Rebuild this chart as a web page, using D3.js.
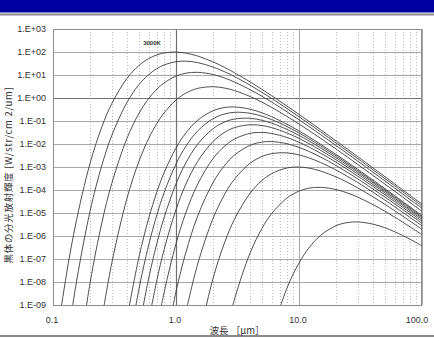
<!DOCTYPE html>
<html>
<head>
<meta charset="utf-8">
<script src="https://cdn.jsdelivr.net/npm/d3@7"></script>
<style>
  html, body { margin: 0; padding: 0; background: #fff; }
  svg { display: block; }
  text { font-family: "Liberation Sans", Arial, "Noto Sans CJK JP", sans-serif; }
</style>
</head>
<body>
<svg id="chart" width="434" height="338"></svg>
<script>
// wavelength grid [um]
const wavelengths = [0.1, 0.12, 0.15, 0.2, 0.25, 0.3, 0.4, 0.5, 0.6, 0.7, 0.8, 1, 1.2, 1.5, 2, 2.5, 3,
  4, 5, 6, 8, 10, 12, 15, 20, 25, 30, 40, 50, 60, 80, 100];

// curves, W/str/cm2/um; each list ends at 100 um (right-aligned on the grid)
const temps = [3000, 2500, 2000, 1500, 1000, 900, 800, 700, 600, 500, 400, 300, 200, 100];
const b3000 = [1.8e-12, 2.1e-9, 2.0e-6, 1.43e-3, 0.0569, 0.558, 7.21, 26.0, 51.8, 75.0, 90.8, 99.2, 89.5, 66.8, 37.2, 21.0, 12.4,
  5.02, 2.37, 1.25, 0.443, 0.194, 0.0974, 0.0416, 0.01373, 5.77e-3, 2.83e-3, 9.12e-4, 3.78e-4, 1.84e-4, 5.88e-5, 2.42e-5];
const b2500 = [7.1e-13, 3.4e-9, 1.18e-5, 1.22e-3, 0.0229, 0.656, 3.82, 10.45, 19.0, 27.3, 37.8, 39.9, 34.6, 22.2, 13.6, 8.44,
  3.61, 1.76, 0.951, 0.345, 0.153, 0.0777, 0.0335, 0.01116, 4.71e-3, 2.32e-3, 7.51e-4, 3.12e-4, 1.52e-4, 4.87e-5, 2.01e-5];
const b2000 = [2.3e-13, 8.9e-9, 3.9e-6, 1.88e-4, 0.01795, 0.215, 0.950, 2.44, 4.52, 8.95, 11.95, 13.07, 10.49, 7.28, 4.90,
  2.31, 1.185, 0.661, 0.249, 0.1131, 0.0583, 0.0255, 8.60e-3, 3.66e-3, 1.81e-3, 5.90e-4, 2.46e-4, 1.20e-4, 3.86e-5, 1.60e-5];
const b1500 = [2.6e-10, 6.4e-8, 4.47e-5, 1.78e-3, 0.01746, 0.0793, 0.2257, 0.813, 1.617, 2.62, 3.10, 2.69, 2.09,
  1.162, 0.656, 0.388, 0.157, 0.0740, 0.0391, 0.01751, 6.05e-3, 2.61e-3, 1.30e-3, 4.29e-4, 1.80e-4, 8.82e-5, 2.85e-5, 1.18e-5];
const b1000 = [2.8e-10, 1.21e-7, 5.9e-6, 8.4e-5, 5.62e-4, 6.72e-3, 0.0297, 0.1071, 0.280, 0.388, 0.408,
  0.3276, 0.2273, 0.1531, 0.0721, 0.0370, 0.0207, 9.74e-3, 3.54e-3, 1.57e-3, 7.96e-4, 2.69e-4, 1.14e-4, 5.65e-5, 1.84e-5, 7.70e-6];
const b900 = [5.1e-12, 5.0e-9, 4.1e-7, 8.5e-6, 7.6e-5, 1.36e-3, 7.83e-3, 0.0369, 0.1258, 0.204, 0.239,
  0.2176, 0.1624, 0.1146, 0.0570, 0.0302, 0.01716, 8.24e-3, 3.04e-3, 1.36e-3, 6.97e-4, 2.37e-4, 1.01e-4, 5.01e-5, 1.64e-5, 6.87e-6];
const b800 = [9.1e-11, 1.47e-8, 4.9e-7, 6.3e-6, 1.84e-4, 1.48e-3, 9.74e-3, 0.0463, 0.0917, 0.1224,
  0.1311, 0.1074, 0.0804, 0.0429, 0.0236, 0.01376, 6.77e-3, 2.55e-3, 1.16e-3, 5.97e-4, 2.05e-4, 8.80e-5, 4.38e-5, 1.44e-5, 6.04e-6];
const b700 = [2.0e-10, 1.25e-8, 2.53e-7, 1.41e-5, 1.74e-4, 1.75e-3, 0.01281, 0.0328, 0.0519,
  0.0686, 0.0635, 0.0515, 0.0301, 0.01749, 0.01053, 5.34e-3, 2.07e-3, 9.57e-4, 4.98e-4, 1.73e-4, 7.49e-5, 3.75e-5, 1.24e-5, 5.22e-6];
const b600 = [9.4e-11, 3.5e-9, 4.6e-7, 1.0e-5, 1.79e-4, 2.31e-3, 8.33e-3, 0.01657,
  0.0290, 0.0317, 0.0287, 0.01909, 0.01191, 7.50e-3, 3.97e-3, 1.61e-3, 7.58e-4, 4.00e-4, 1.42e-4, 6.19e-5, 3.12e-5, 1.04e-5, 4.39e-6];
const b500 = [8.7e-12, 3.8e-9, 1.84e-7, 7.3e-6, 2.10e-4, 1.22e-3, 3.35e-3,
  8.74e-3, 0.01210, 0.01275, 0.01024, 7.10e-3, 4.79e-3, 2.70e-3, 1.16e-3, 5.65e-4, 3.05e-4, 1.10e-4, 4.90e-5, 2.49e-5, 8.39e-6, 3.57e-6];
const b400 = [4.6e-10, 6.0e-8, 5.75e-6, 6.88e-5, 3.04e-4,
  1.45e-3, 2.86e-3, 3.82e-3, 4.10e-3, 3.36e-3, 2.51e-3, 1.57e-3, 7.39e-4, 3.79e-4, 2.12e-4, 7.97e-5, 3.62e-5, 1.86e-5, 6.40e-6, 2.75e-6];
const b300 = [2.0e-11, 1.43e-8, 5.69e-7, 5.59e-6,
  7.22e-5, 2.60e-4, 5.17e-4, 9.08e-4, 9.92e-4, 8.96e-4, 6.68e-4, 3.72e-4, 2.10e-4, 1.24e-4, 5.02e-5, 2.37e-5, 1.25e-5, 4.42e-6, 1.94e-6];
const b200 = [3.9e-11, 1.89e-9,
  1.80e-7, 2.15e-6, 9.50e-6, 4.52e-5, 8.95e-5, 1.195e-4, 1.306e-4, 1.049e-4, 7.27e-5, 4.90e-5, 2.31e-5, 1.18e-5, 6.61e-6, 2.49e-6, 1.13e-6];
const b100 = [5.9e-11, 5.6e-9, 6.7e-8, 2.97e-7, 1.071e-6, 2.80e-6, 3.88e-6, 4.08e-6, 3.28e-6, 2.27e-6, 1.53e-6, 7.21e-7, 3.70e-7];
const series = [b3000, b2500, b2000, b1500, b1000, b900, b800, b700, b600, b500, b400, b300, b200, b100];

const xTicks = [0.1, 1, 10, 100];
const xTickLabels = ['0.1', '1.0', '10.0', '100.0'];
const yTicks = [1e-9, 1e-8, 1e-7, 1e-6, 1e-5, 1e-4, 1e-3, 1e-2, 1e-1, 1e0, 1e1, 1e2, 1e3];
const yTickLabels = ['1.E-09', '1.E-08', '1.E-07', '1.E-06', '1.E-05', '1.E-04', '1.E-03',
  '1.E-02', '1.E-01', '1.E+00', '1.E+01', '1.E+02', '1.E+03'];
const peakLabel = '3000K';
const xTitle = '波長 ［μm］';
const yTitle = '黒体の分光放射輝度  [W/str/cm 2/um]';

const W = 434, H = 338;
const plot = { left: 53, right: 422, top: 29, bottom: 305 };

const svg = d3.select('#chart');

// page header band + rules
svg.append('rect').attr('x', 0).attr('y', 0).attr('width', W).attr('height', 12.5).attr('fill', '#0000a0');
svg.append('line').attr('x1', 0).attr('x2', W).attr('y1', 14.5).attr('y2', 14.5)
  .attr('stroke', '#8a8a8a').attr('stroke-width', 2);
svg.append('line').attr('x1', 0).attr('x2', W).attr('y1', 336).attr('y2', 336)
  .attr('stroke', '#8a8a8a').attr('stroke-width', 2);

const x = d3.scaleLog().domain([0.1, 100]).range([plot.left, plot.right]);
const y = d3.scaleLog().domain([1e-9, 1e3]).range([plot.bottom, plot.top]);

// minor vertical grid (dotted)
const minor = [];
[0.1, 1, 10].forEach(d => { for (let k = 2; k <= 9; k++) minor.push(d * k); });
svg.append('g').selectAll('line').data(minor).join('line')
  .attr('x1', d => Math.round(x(d)) + 0.5).attr('x2', d => Math.round(x(d)) + 0.5)
  .attr('y1', plot.top).attr('y2', plot.bottom)
  .attr('stroke', '#bcbcbc').attr('stroke-width', 1).attr('stroke-dasharray', '1,2');

// major grid
svg.append('g').selectAll('line').data(yTicks).join('line')
  .attr('x1', plot.left).attr('x2', plot.right)
  .attr('y1', d => Math.round(y(d)) + 0.5).attr('y2', d => Math.round(y(d)) + 0.5)
  .attr('stroke', d => d === 1 ? '#707070' : '#a8a8a8').attr('stroke-width', d => d === 1 ? 1.2 : 1);
svg.append('g').selectAll('line').data(xTicks).join('line')
  .attr('x1', d => Math.round(x(d)) + 0.5).attr('x2', d => Math.round(x(d)) + 0.5)
  .attr('y1', plot.top).attr('y2', plot.bottom)
  .attr('stroke', d => d === 1 ? '#707070' : '#a8a8a8').attr('stroke-width', d => d === 1 ? 1.2 : 1);

// frame
svg.append('rect')
  .attr('x', plot.left + 0.5).attr('y', plot.top + 0.5)
  .attr('width', plot.right - plot.left - 1).attr('height', plot.bottom - plot.top)
  .attr('fill', 'none').attr('stroke', '#8c8c8c').attr('stroke-width', 1);

// curves
svg.append('clipPath').attr('id', 'clip').append('rect')
  .attr('x', plot.left).attr('y', plot.top).attr('width', plot.right - plot.left).attr('height', plot.bottom - plot.top);

const line = d3.line()
  .x(d => x(d[0]))
  .y(d => y(d[1]))
  .curve(d3.curveCatmullRom.alpha(0.5));

svg.append('g').attr('clip-path', 'url(#clip)')
  .selectAll('path').data(series).join('path')
  .attr('d', vals => {
    const off = wavelengths.length - vals.length;
    return line(vals.map((v, i) => [wavelengths[off + i], v]));
  })
  .attr('fill', 'none').attr('stroke', '#3c3c3c').attr('stroke-width', 0.9);

// axis labels
svg.append('g').selectAll('text').data(yTicks).join('text')
  .attr('x', 46).attr('y', d => y(d)).attr('dy', '0.35em')
  .attr('text-anchor', 'end').attr('font-size', 9).attr('fill', '#333')
  .text((d, i) => yTickLabels[i]);

svg.append('g').selectAll('text').data(xTicks).join('text')
  .attr('x', d => x(d) - (d === 100 ? 5 : 1)).attr('y', 323)
  .attr('text-anchor', 'middle').attr('font-size', 9).attr('fill', '#333')
  .text((d, i) => xTickLabels[i]);

svg.append('text').attr('x', 237).attr('y', 334)
  .attr('text-anchor', 'middle').attr('font-size', 9.5).attr('fill', '#333')
  .style('font-family', '"Noto Sans CJK JP", sans-serif')
  .text(xTitle);

svg.append('text')
  .attr('transform', 'translate(11.5,175) rotate(-90)')
  .attr('text-anchor', 'middle').attr('font-size', 9.5).attr('letter-spacing', 0.7).attr('fill', '#333')
  .style('font-family', '"Noto Sans CJK JP", sans-serif')
  .text(yTitle);

svg.append('text').attr('x', 152).attr('y', 45)
  .attr('text-anchor', 'middle').attr('font-size', 6).attr('font-weight', 'bold').attr('fill', '#333')
  .text(peakLabel);
</script>
</body>
</html>
